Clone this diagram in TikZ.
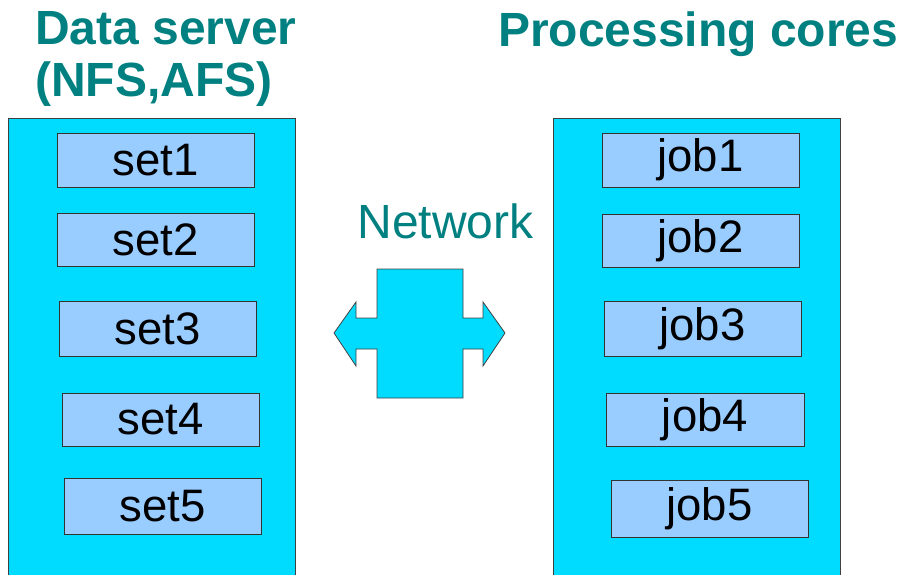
\documentclass[tikz,border=0pt]{standalone}
\usepackage{fontspec}
\setmainfont{Liberation Sans}
\usepackage{xcolor}
\usepackage{tikz}
\usetikzlibrary{positioning, calc}
\definecolor{cHEAD}{HTML}{008080}
\definecolor{cHOST}{HTML}{00DCFF}
\definecolor{cITEM}{HTML}{99CCFF}

\begin{document}
\begin{tikzpicture}[x=1pt, y=-1pt,
  host/.style={draw=black!75, fill=cHOST, line width=0.8pt, minimum width=287pt, minimum height=460pt, inner sep=0pt},
  item/.style={draw=black!80, fill=cITEM, line width=0.8pt, minimum width=197pt, inner sep=0pt, font=\fontsize{45.5}{45}\selectfont},
  head/.style={text=cHEAD, inner sep=0pt, font=\fontsize{48}{52}\selectfont\bfseries},
]
\useasboundingbox (0,0) rectangle (899,575);

% the two machines
\node (server) [host] at (151.5,348) {};
\node (cores)  [host] at (696.5,348) {};

\node (servertitle) [head, anchor=base west, align=left] at (35,97) {Data server\\(NFS,AFS)};
\node (corestitle)  [head, anchor=base west] at (498,47) {Processing cores};

% data sets
\node (set1) [item, minimum height=54pt] at (155.5,160)   {set1};
\node (set2) [item, minimum height=53pt] at (155.5,239.5) {set2};
\node (set3) [item, minimum height=55pt] at (157.5,328.5) {set3};
\node (set4) [item, minimum height=53pt] at (160.5,419.5) {set4};
\node (set5) [item, minimum height=56pt] at (162.5,506)   {set5};

% jobs
\node (job1) [item, minimum height=54pt] at (700.5,160)   {job1};
\node (job2) [item, minimum height=53pt] at (700.5,240.5) {job2};
\node (job3) [item, minimum height=55pt] at (702.5,328.5) {job3};
\node (job4) [item, minimum height=53pt, minimum width=198pt] at (705,419.5) {job4};
\node (job5) [item, minimum height=57pt] at (709.5,508.5) {job5};

% network
\node (nettitle) [text=cHEAD, inner sep=0pt, anchor=base, font=\fontsize{48}{48}\selectfont] at (445.5,238) {Network};
\draw[draw=black!75, fill=cHOST, line width=0.8pt]
  (334,333) -- (356,302) -- (356,318) -- (377,318) -- (377,269) -- (463,269)
  -- (463,318) -- (483,318) -- (483,302) -- (505,333) -- (483,366) -- (483,349)
  -- (463,349) -- (463,398) -- (377,398) -- (377,349) -- (356,349) -- (356,366) -- cycle;
\end{tikzpicture}
\end{document}
